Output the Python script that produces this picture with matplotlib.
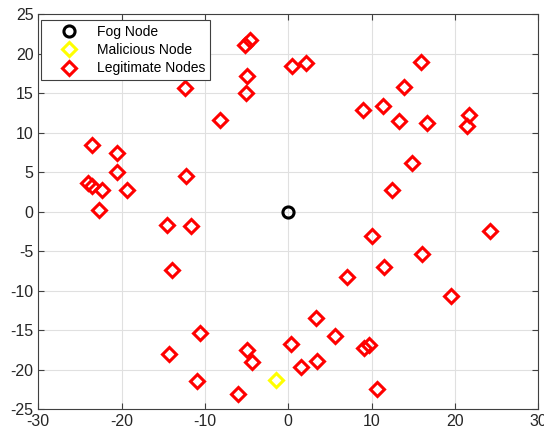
import matplotlib.pyplot as plt

# Fog node at the centre
fog_x = [0.0]
fog_y = [0.0]

# Malicious node
mal_x = [-1.5]
mal_y = [-21.3]

# Legitimate nodes
leg_x = [-5.2, -4.6, -5.0, -5.1, -12.4, -8.2, -23.6, -20.6, -20.6, -24.0,
         -23.6, -22.3, -19.4, -22.7, -12.3,
         0.5, 2.1, 15.9, 13.9, 9.0, 11.4, 13.3, 16.7, 21.7, 21.5, 14.8, 12.4,
         -14.5, -11.7, -13.9, -10.6, -14.3, -5.0, -4.4, -11.0, -6.0,
         10.0, 24.2, 16.1, 11.5, 7.0, 19.5, 3.3, 5.6, 0.3, 9.1, 9.7, 3.4,
         1.5, 10.7]
leg_y = [21.1, 21.7, 17.2, 15.0, 15.7, 11.6, 8.4, 7.5, 5.0, 3.6,
         3.3, 2.7, 2.7, 0.2, 4.5,
         18.4, 18.8, 19.0, 15.8, 12.9, 13.4, 11.5, 11.3, 12.2, 10.9, 6.2, 2.7,
         -1.7, -1.8, -7.4, -15.4, -18.0, -17.5, -19.0, -21.4, -23.0,
         -3.0, -2.4, -5.3, -7.0, -8.3, -10.6, -13.5, -15.7, -16.7, -17.2, -16.9,
         -18.9, -19.7, -22.4]

plt.rcParams['font.family'] = ['Liberation Sans', 'DejaVu Sans']
plt.rcParams['axes.unicode_minus'] = False

fig = plt.figure(figsize=(5.44, 4.33), dpi=100)
ax = fig.add_axes([0.0704, 0.0547, 0.9191, 0.9123])

ax.plot(fog_x, fog_y, linestyle='none', marker='o', markersize=8,
        markerfacecolor='none', markeredgecolor='black', markeredgewidth=2.2,
        label='Fog Node', zorder=3)
ax.plot(mal_x, mal_y, linestyle='none', marker='D', markersize=7.3,
        markerfacecolor='none', markeredgecolor='#ffff00', markeredgewidth=2.2,
        label='Malicious Node', zorder=3)
ax.plot(leg_x, leg_y, linestyle='none', marker='D', markersize=7.3,
        markerfacecolor='none', markeredgecolor='#ff0000', markeredgewidth=2.2,
        label='Legitimate Nodes', zorder=3)

ax.set_xlim(-30, 30)
ax.set_ylim(-25, 25)
ax.set_xticks(range(-30, 31, 10))
ax.set_yticks(range(-25, 26, 5))

ax.grid(True, color='#e0e0e0', linewidth=0.8)
ax.set_axisbelow(True)
for s in ax.spines.values():
    s.set_color('#404040')
    s.set_linewidth(0.8)
ax.tick_params(direction='in', top=True, right=True, length=4,
               colors='#404040', labelcolor='#262626', labelsize=11.5)

leg = ax.legend(loc='upper left', bbox_to_anchor=(0.005, 0.985), fontsize=10,
                frameon=True, fancybox=False, framealpha=1, edgecolor='#404040',
                borderpad=0.35, labelspacing=0.3, handlelength=3.3,
                handletextpad=0.4, borderaxespad=0.0)
leg.get_frame().set_linewidth(0.8)

fig.savefig('out.png', dpi=100)
